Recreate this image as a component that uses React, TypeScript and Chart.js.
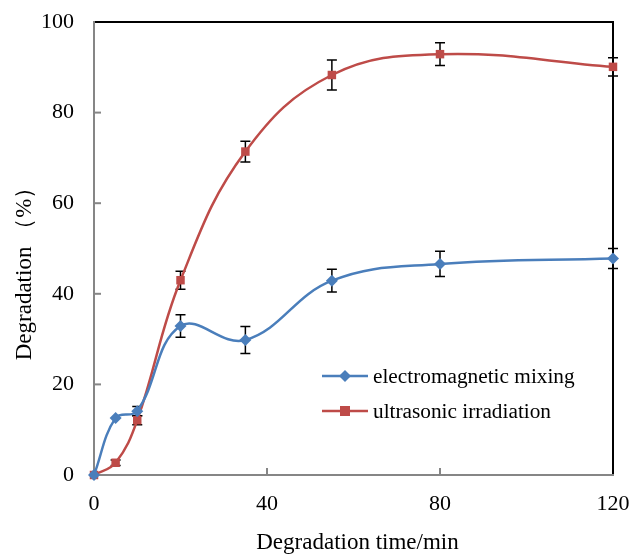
import React, { useEffect, useRef } from "react";
import { Chart, registerables } from "chart.js";

Chart.register(...registerables);

const times = [0, 5, 10, 20, 35, 55, 80, 120];
const emValues = [0, 12.6, 14.1, 32.9, 29.8, 42.9, 46.6, 47.8];
const emErrors = [0, 0, 1, 2.5, 3, 2.5, 2.8, 2.2];
const usValues = [0, 2.7, 12.1, 43.0, 71.4, 88.3, 92.9, 90.1];
const usErrors = [0, 0.6, 1, 2, 2.3, 3.3, 2.5, 2];
const xTicks = [0, 40, 80, 120];
const yTicks = [0, 20, 40, 60, 80, 100];
const seriesNames = ["electromagnetic mixing", "ultrasonic irradiation"];
const xTitle = "Degradation time/min";
const yTitle = "Degradation （%）";

const BLUE = "#4A7EBB";
const RED = "#BE4B48";
const GREY = "#868686";
const FONT = "'Liberation Serif', 'Times New Roman', serif";

const errors = [emErrors, usErrors];

const framePlugin = {
  id: "frame",
  beforeDatasetsDraw(chart: any) {
    const { ctx, chartArea: a, scales } = chart;
    const xs = scales.x;
    const ys = scales.y;
    ctx.save();
    ctx.strokeStyle = GREY;
    ctx.lineWidth = 2;
    yTicks.forEach((v) => {
      if (v === 0 || v === 100) return;
      const y = ys.getPixelForValue(v);
      ctx.beginPath();
      ctx.moveTo(a.left, y);
      ctx.lineTo(a.left + 7, y);
      ctx.stroke();
    });
    xTicks.forEach((v) => {
      if (v === 0 || v === 120) return;
      const x = xs.getPixelForValue(v);
      ctx.beginPath();
      ctx.moveTo(x, a.bottom);
      ctx.lineTo(x, a.bottom - 7);
      ctx.stroke();
    });
    ctx.strokeStyle = "#000";
    ctx.beginPath();
    ctx.moveTo(a.left, a.top);
    ctx.lineTo(a.right, a.top);
    ctx.lineTo(a.right, a.bottom);
    ctx.stroke();
    ctx.strokeStyle = GREY;
    ctx.beginPath();
    ctx.moveTo(a.left, a.top - 1);
    ctx.lineTo(a.left, a.bottom);
    ctx.lineTo(a.right + 1, a.bottom);
    ctx.stroke();
    ctx.strokeStyle = "#000";
    ctx.lineWidth = 1.5;
    errors.forEach((errs, di) => {
      const vals = chart.data.datasets[di].data;
      vals.forEach((p: any, i: number) => {
        const e = errs[i];
        if (!e) return;
        const x = xs.getPixelForValue(p.x);
        const y1 = ys.getPixelForValue(p.y + e);
        const y2 = ys.getPixelForValue(p.y - e);
        ctx.beginPath();
        ctx.moveTo(x, y1);
        ctx.lineTo(x, y2);
        ctx.moveTo(x - 5, y1);
        ctx.lineTo(x + 5, y1);
        ctx.moveTo(x - 5, y2);
        ctx.lineTo(x + 5, y2);
        ctx.stroke();
      });
    });
    ctx.restore();
  },
  afterDraw(chart: any) {
    const { ctx, chartArea: a } = chart;
    ctx.save();
    // axis titles
    ctx.fillStyle = "#000";
    ctx.font = `23px ${FONT}`;
    ctx.textAlign = "center";
    ctx.textBaseline = "middle";
    ctx.fillText(xTitle, (a.left + a.right) / 2 + 4, 543);
    ctx.save();
    ctx.translate(25, 268);
    ctx.rotate(-Math.PI / 2);
    ctx.fillText(yTitle, 0, 0);
    ctx.restore();
    // legend
    const items = [
      { name: seriesNames[0], color: BLUE, y: 376, shape: "diamond" },
      { name: seriesNames[1], color: RED, y: 411, shape: "square" },
    ];
    items.forEach((it) => {
      ctx.strokeStyle = it.color;
      ctx.lineWidth = 2.5;
      ctx.beginPath();
      ctx.moveTo(322, it.y);
      ctx.lineTo(368, it.y);
      ctx.stroke();
      ctx.fillStyle = it.color;
      const cx = 345;
      if (it.shape === "diamond") {
        ctx.beginPath();
        ctx.moveTo(cx, it.y - 6);
        ctx.lineTo(cx + 6, it.y);
        ctx.lineTo(cx, it.y + 6);
        ctx.lineTo(cx - 6, it.y);
        ctx.closePath();
        ctx.fill();
      } else {
        ctx.fillRect(cx - 5, it.y - 5, 10, 10);
      }
      ctx.fillStyle = "#000";
      ctx.font = `21.3px ${FONT}`;
      ctx.textBaseline = "middle";
      ctx.textAlign = "left";
      ctx.fillText(it.name, 373, it.y + 1);
    });
    ctx.restore();
  },
};

const zeroPad = (s: any) => {
  s.paddingTop = 0;
  s.paddingBottom = 0;
  s.paddingLeft = 0;
  s.paddingRight = 0;
};

export default function App() {
  const ref = useRef<HTMLCanvasElement>(null);
  useEffect(() => {
    if (!ref.current) return;
    const chart = new Chart(ref.current, {
      type: "line",
      data: {
        datasets: [
          {
            label: seriesNames[0],
            data: times.map((t, i) => ({ x: t, y: emValues[i] })),
            borderColor: BLUE,
            backgroundColor: BLUE,
            borderWidth: 2.5,
            pointStyle: "rectRot",
            pointRadius: 6,
            pointBorderWidth: 0,
            tension: 0.4,
            clip: false as any,
          },
          {
            label: seriesNames[1],
            data: times.map((t, i) => ({ x: t, y: usValues[i] })),
            borderColor: RED,
            backgroundColor: RED,
            borderWidth: 2.5,
            pointStyle: "rect",
            pointRadius: 6,
            pointBorderWidth: 0,
            tension: 0.4,
            clip: false as any,
          },
        ],
      },
      options: {
        animation: false,
        responsive: false,
        layout: { padding: { left: 0, right: 19, top: 22, bottom: 0 } },
        plugins: { legend: { display: false }, tooltip: { enabled: false } },
        scales: {
          x: {
            type: "linear",
            min: 0,
            max: 120,
            afterBuildTicks: (s: any) => {
              s.ticks = xTicks.map((v) => ({ value: v }));
            },
            afterFit: (s: any) => {
              s.height = 80;
              zeroPad(s);
            },
            grid: { display: false, drawTicks: false },
            border: { display: false },
            ticks: {
              color: "#000",
              padding: 16,
              maxRotation: 0,
              font: { family: FONT, size: 22 },
            },
            title: { display: false },
          },
          y: {
            type: "linear",
            min: 0,
            max: 100,
            afterBuildTicks: (s: any) => {
              s.ticks = yTicks.map((v) => ({ value: v }));
            },
            afterFit: (s: any) => {
              s.width = 94;
              zeroPad(s);
            },
            grid: { display: false, drawTicks: false },
            border: { display: false },
            ticks: {
              color: "#000",
              padding: 20,
              font: { family: FONT, size: 22 },
            },
            title: { display: false },
          },
        },
      },
      plugins: [framePlugin],
    });
    return () => chart.destroy();
  }, []);
  return (
    <div style={{ position: "fixed", left: 0, top: 0, width: 632, height: 555, background: "#fff" }}>
      <canvas ref={ref} width={632} height={555} style={{ width: 632, height: 555 }} />
    </div>
  );
}
